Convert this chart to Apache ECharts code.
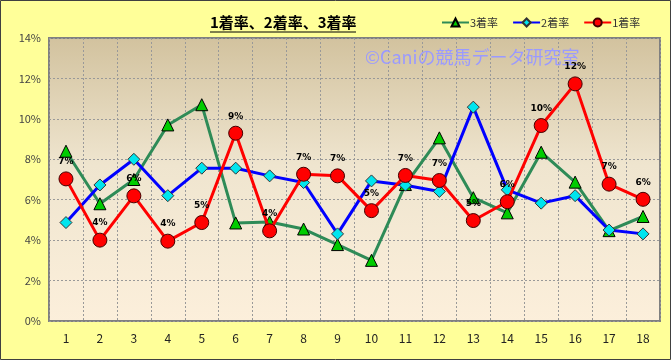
<!DOCTYPE html>
<html><head><meta charset="utf-8">
<script src="https://cdn.jsdelivr.net/npm/echarts@6/dist/echarts.min.js"></script>
<style>html,body{margin:0;padding:0;background:#ffff99}#c{width:671px;height:360px}</style>
</head><body><div id="c"></div>
<script>
const categories = ['1','2','3','4','5','6','7','8','9','10','11','12','13','14','15','16','17','18'];
const rate3 = [8.4,5.8,7.0,9.7,10.7,4.85,4.9,4.55,3.78,3.0,6.75,9.06,6.1,5.35,8.35,6.87,4.47,5.17];
const rate2 = [4.87,6.73,8.0,6.2,7.56,7.56,7.18,6.85,4.31,6.93,6.72,6.41,10.58,6.49,5.83,6.2,4.5,4.31];
const rate1 = [7.03,4.0,6.19,3.95,4.87,9.29,4.46,7.26,7.18,5.46,7.2,6.95,4.97,5.9,9.67,11.73,6.77,6.02];
const seriesNames = ['3着率','2着率','1着率'];
const yTicks = {min:0, max:14, interval:2};

const chart = echarts.init(document.getElementById('c'), null, {renderer:'canvas'});
const fam = '"Noto Sans CJK JP","DejaVu Sans",sans-serif';
chart.setOption({
  backgroundColor:'#ffff99',
  animation:false,
  title:{text:'1着率、2着率、3着率', left:205, top:10,
    textStyle:{fontSize:15, fontWeight:'bold', color:'#000', fontFamily:fam}},
  legend:{data:seriesNames, left:436, top:12, itemWidth:27, itemHeight:10, itemGap:14,
    textStyle:{fontSize:11, color:'#333', fontFamily:fam, padding:[0,0,0,-4]}},
  graphic:[
    {type:'rect', shape:{x:0.5,y:0.5,width:670,height:359}, style:{fill:null, stroke:'#404040', lineWidth:1}, z:100},
    {type:'line', shape:{x1:210,y1:32,x2:356,y2:32}, style:{stroke:'#000', lineWidth:1}},
    {type:'text', left:365, top:48, z:1, style:{text:'©Caniの競馬データ研究室', fill:'#9a9aff', font:'18px '+fam}}
  ],
  grid:{left:49, right:11, top:38, bottom:39, show:true, borderColor:'#808080', borderWidth:2,
    backgroundColor:new echarts.graphic.LinearGradient(0,0,0,1,[
      {offset:0,color:'#d2c29e'},{offset:0.45,color:'#efe5cf'},{offset:1,color:'#fcefdb'}])},
  xAxis:{type:'category', data:categories, boundaryGap:true,
    axisLine:{show:false}, axisTick:{show:false},
    axisLabel:{color:'#222', fontSize:12, margin:11, fontFamily:fam},
    splitLine:{show:true, lineStyle:{color:'#999', type:[2,2], width:1}}},
  yAxis:{type:'value', min:yTicks.min, max:yTicks.max, interval:yTicks.interval,
    axisLine:{show:false}, axisTick:{show:false},
    axisLabel:{formatter:'{value}%', color:'#444', fontSize:11, margin:8, fontFamily:fam},
    splitLine:{show:true, lineStyle:{color:'#999', type:[2,2], width:1}}},
  series:[
    {name:seriesNames[0], type:'line', data:rate3, symbol:'triangle', symbolSize:12,
      lineStyle:{color:'#2e8b57', width:3}, itemStyle:{color:'#00cc00', borderColor:'#000', borderWidth:1}, z:2},
    {name:seriesNames[1], type:'line', data:rate2, symbol:'diamond', symbolSize:12,
      lineStyle:{color:'#0000ff', width:3}, itemStyle:{color:'#00e5ee', borderColor:'#333', borderWidth:1}, z:3},
    {name:seriesNames[2], type:'line', data:rate1, symbol:'circle', symbolSize:14,
      lineStyle:{color:'#ff0000', width:3}, itemStyle:{color:'#ff0000', borderColor:'#400', borderWidth:1}, z:4,
      label:{show:true, position:'top', distance:5, formatter:p=>Math.round(p.value)+'%',
        fontSize:9, fontWeight:'bold', color:'#000', fontFamily:'"DejaVu Sans",sans-serif'}}
  ]
});
</script></body></html>
